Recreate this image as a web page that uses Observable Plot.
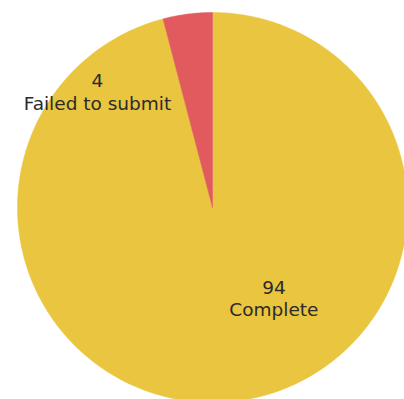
<!DOCTYPE html>
<html>
<head>
<meta charset="utf-8">
<script src="https://cdn.jsdelivr.net/npm/d3@7"></script>
<script src="https://cdn.jsdelivr.net/npm/@observablehq/plot@0.6"></script>
<style>
  html, body { margin: 0; padding: 0; background: #fff; overflow: hidden; }
</style>
</head>
<body>
<div id="chart"></div>
<script>
const categories = ["Complete", "Failed to submit"];
const values = [94, 4];
const colors = ["#E9C540", "#E05A5E"];

// pie geometry (unit circle, y up, clockwise from 12 o'clock)
const arcs = d3.pie().sort(null).value(d => d.value)(
  categories.map((c, i) => ({label: c, value: values[i]}))
);
const poly = [];
for (const a of arcs) {
  const lab = a.data.label;
  poly.push({label: lab, x: 0, y: 0});
  const n = Math.max(2, Math.ceil((a.endAngle - a.startAngle) / 0.01));
  for (let k = 0; k <= n; k++) {
    const t = a.startAngle + (a.endAngle - a.startAngle) * k / n;
    poly.push({label: lab, x: Math.sin(t), y: Math.cos(t)});
  }
  poly.push({label: lab, x: 0, y: 0});
}

// label anchor points (unit coords)
const labelAnchor = {"Complete": [0.315, -0.465], "Failed to submit": [-0.59, 0.595]};
const textData = arcs.map(a => ({
  text: `${a.data.value}\n${a.data.label}`,
  x: labelAnchor[a.data.label][0],
  y: labelAnchor[a.data.label][1]
}));

const chart = Plot.plot({
  width: 404,
  height: 399,
  margin: 0,
  x: {domain: [-1, 1], range: [17, 407], axis: null},
  y: {domain: [-1, 1], range: [402, 12], axis: null},
  color: {domain: categories, range: colors},
  style: {background: "#fff", fontFamily: "'DejaVu Sans', Verdana, sans-serif"},
  marks: [
    Plot.line(poly, {x: "x", y: "y", z: "label", fill: "label", stroke: "label", strokeWidth: 0.5, curve: "linear"}),
    Plot.text(textData, {x: "x", y: "y", text: "text", fontSize: 18.5, lineHeight: 1.2, fill: "#2b2b2b", textAnchor: "middle", lineAnchor: "middle"})
  ]
});
document.getElementById("chart").appendChild(chart);
</script>
</body>
</html>
